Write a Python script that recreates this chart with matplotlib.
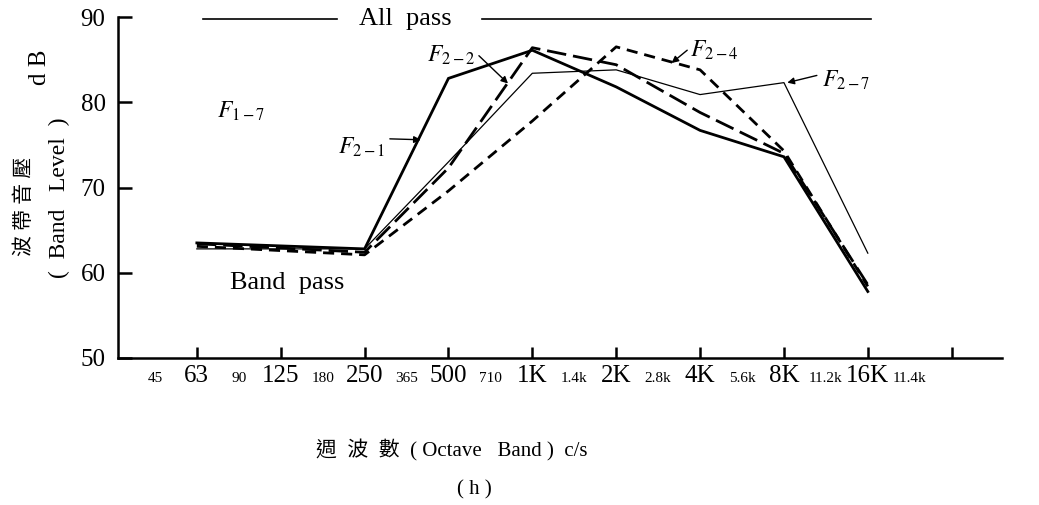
import numpy as np
import matplotlib
matplotlib.use("Agg")
import matplotlib.pyplot as plt

plt.rcParams['font.family'] = ['Liberation Serif', 'Noto Sans CJK TC']
plt.rcParams['mathtext.fontset'] = 'stix'

# octave band positions (0 = 63 Hz ... 8 = 16K)
band_x = [0, 2, 3, 4, 5, 6, 7, 8]
major_labels = ['63', '125', '250', '500', '1K', '2K', '4K', '8K', '16K', '']
minor_labels = ['45', '90', '180', '365', '710', '1.4k', '2.8k', '5.6k', '11.2k', '11.4k']

# band level, dB
f21 = [63.5, 62.8, 82.8, 86.1, 81.8, 76.7, 73.6, 57.8]
f22 = [63.4, 62.4, 72.3, 86.4, 84.4, 78.8, 74.0, 58.6]
f24 = [63.1, 62.1, 69.6, 77.8, 86.5, 83.8, 74.3, 58.4]
f27 = [62.8, 62.8, 73.0, 83.4, 83.8, 80.9, 82.3, 62.3]
all_pass = 89.8

W, H = 1039, 505
fig = plt.figure(figsize=(W/100, H/100), dpi=100)
ax = fig.add_axes([118/W, 1-358/H, (1002-118)/W, (358-17)/H])

ax.plot(band_x, f21, color='k', lw=2.0, solid_joinstyle='miter')
ax.plot(band_x, f22, color='k', lw=2.0, dashes=(7, 2.5))
ax.plot(band_x, f24, color='k', lw=2.0, dashes=(4, 2.5))
ax.plot(band_x, f27, color='k', lw=0.9)

# "All pass" reference line
ax.plot([0.07, 1.67], [all_pass, all_pass], color='k', lw=1.2)
ax.plot([3.40, 8.04], [all_pass, all_pass], color='k', lw=1.2)
ax.text(2.48, all_pass, 'All  pass', ha='center', va='center', fontsize=19)
ax.text(0.39, 58.8, 'Band  pass', ha='left', va='center', fontsize=19)

ax.text(0.24, 78.9, r'$F_{1-7}$', ha='left', va='center', fontsize=17)
arr = dict(arrowstyle='-|>', color='k', lw=1.0, mutation_scale=10, shrinkA=0, shrinkB=0)
ax.annotate(r'$F_{2-1}$', xy=(2.67, 75.6), xytext=(1.68, 74.75), ha='left', va='center',
            fontsize=17, arrowprops=dict(arr, relpos=(1.1, 0.85)))
ax.annotate(r'$F_{2-2}$', xy=(3.71, 82.2), xytext=(2.75, 85.5), ha='left', va='center',
            fontsize=17, arrowprops=dict(arr, relpos=(1.05, 0.5)))
ax.annotate(r'$F_{2-4}$', xy=(5.66, 84.6), xytext=(5.88, 86.1), ha='left', va='center',
            fontsize=17, arrowprops=dict(arr, relpos=(0.0, 0.6)))
ax.annotate(r'$F_{2-7}$', xy=(7.04, 82.3), xytext=(7.45, 82.6), ha='left', va='center',
            fontsize=17, arrowprops=dict(arr, relpos=(-0.1, 0.7)))

ax.set_xlim(-0.94, 9.6)
ax.set_ylim(50, 90)
for s in ['top', 'right']:
    ax.spines[s].set_visible(False)
for s in ['left', 'bottom']:
    ax.spines[s].set_linewidth(1.8)

ax.set_yticks([50, 60, 70, 80, 90])
ax.tick_params(axis='y', direction='in', length=10, width=1.8, labelsize=18, pad=9)
ax.set_xticks(np.arange(10), major_labels)
ax.set_xticks(np.arange(10) - 0.5, minor_labels, minor=True)
ax.tick_params(axis='x', which='major', direction='in', length=8, width=1.8, labelsize=18, pad=17)
ax.tick_params(axis='x', which='minor', length=0, labelsize=11, pad=17)
for lab in ax.get_xticklabels() + ax.get_xticklabels(minor=True):
    lab.set_verticalalignment('baseline')

# axis titles
fig.text(25/W, 1-206/H, '波 帶 音 壓', rotation=90, ha='center', va='center', fontsize=15)
fig.text(40/W, 1-67/H, 'd B', rotation=90, ha='center', va='center', fontsize=18)
fig.text(59/W, 1-198/H, '(  Band   Level  )', rotation=90, ha='center', va='center', fontsize=17)
fig.text(452/W, 1-450/H, '週  波  數  ( Octave   Band )  c/s', ha='center', va='center', fontsize=15)
fig.text(474/W, 1-490/H, '( h )', ha='center', va='center', fontsize=15)

fig.savefig('out.png', dpi=100)
